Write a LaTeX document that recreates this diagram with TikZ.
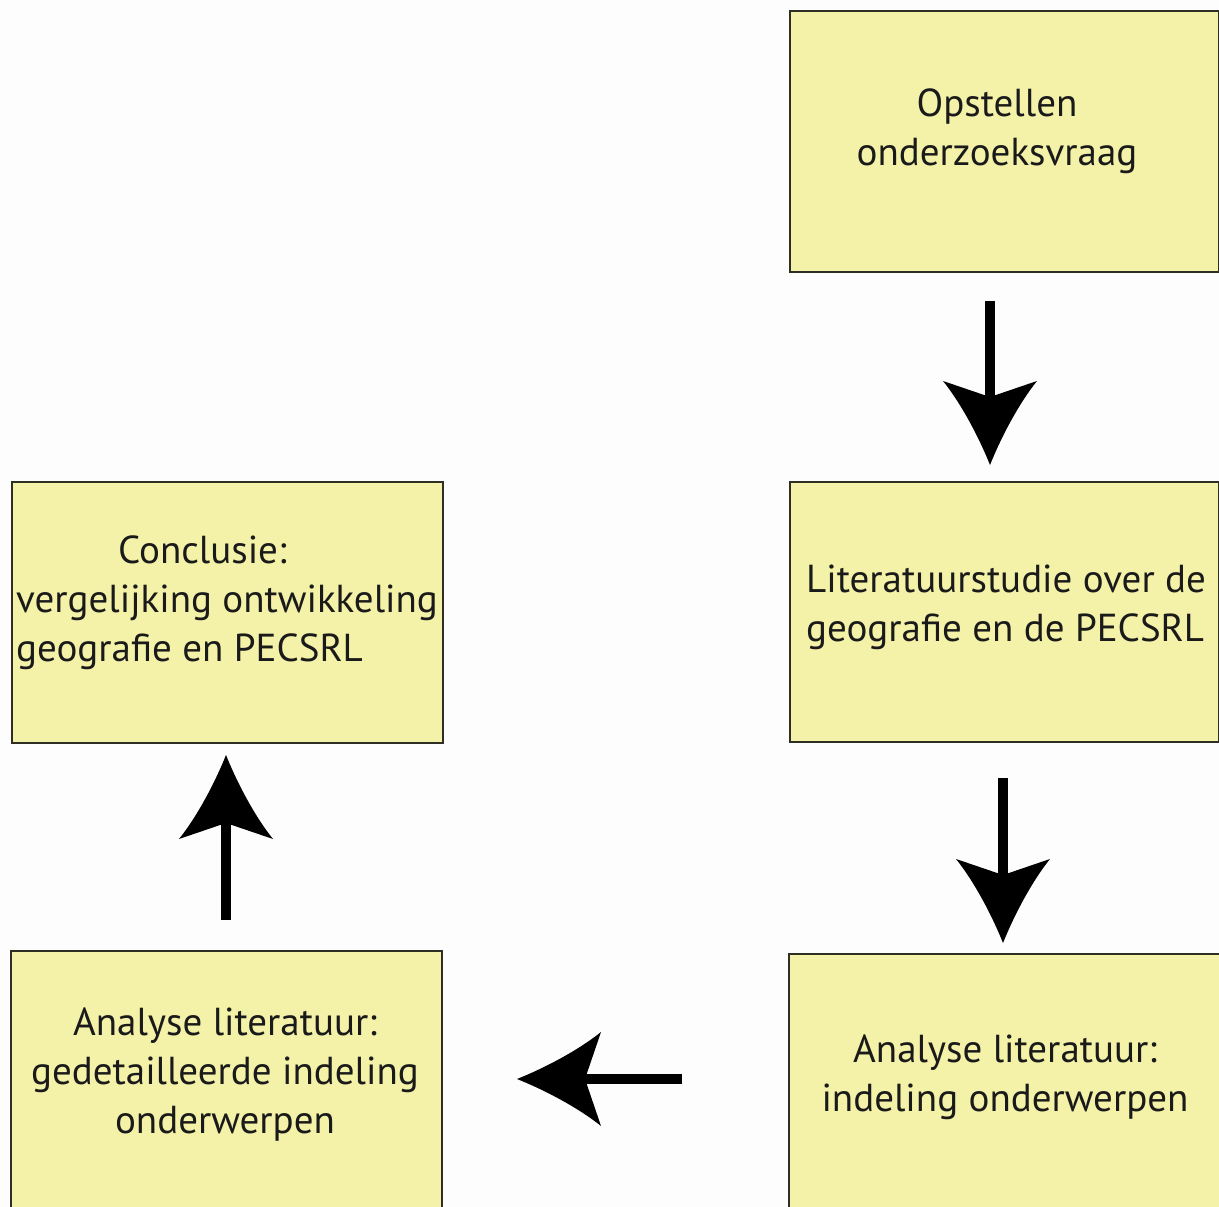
\documentclass[tikz,border=0pt]{standalone}
\usepackage{fontspec}
\setmainfont{PT Sans}
\definecolor{bgcol}{HTML}{FDFDFD}
\definecolor{boxfill}{HTML}{F4F2A8}
\definecolor{boxline}{HTML}{2E2E24}
\definecolor{txtcol}{HTML}{1A1A1A}
\begin{document}
\begin{tikzpicture}[x=1pt,y=-1pt,
  stepbox/.style={draw=boxline,fill=boxfill,line width=2pt,rectangle,inner sep=0pt,anchor=north west},
  steptext/.style={inner sep=0pt,text=txtcol,font=\fontsize{39}{49}\selectfont},
  shaft/.style={line width=10pt,line cap=butt,shorten >=40pt},
  headshape/.style={fill=black},
]
\useasboundingbox (0,0) rectangle (1219,1207);
\fill[bgcol] (0,0) rectangle (1219,1207);
\clip (0,0) rectangle (1219,1207);

% boxes
\node[stepbox,minimum width=429pt,minimum height=261pt] (b1) at (789,10) {};
\node[stepbox,minimum width=429pt,minimum height=260pt] (b2) at (789,481) {};
\node[stepbox,minimum width=431pt,minimum height=290pt] (b3) at (788,953) {};
\node[stepbox,minimum width=431pt,minimum height=290pt] (b4) at (10,950) {};
\node[stepbox,minimum width=431pt,minimum height=261pt] (b5) at (11,481) {};

% texts
\node[steptext,align=center] (t1) at (997,131.5) {Opstellen\\onderzoeksvraag};
\node[steptext,align=left,anchor=west] (t2) at (806,607) {Literatuurstudie over de\\geografie en de PECSRL};
\node[steptext,align=center] (t3) at (1005,1077) {Analyse literatuur:\\indeling onderwerpen};
\node[steptext,align=center] (t4) at (225,1074.5) {Analyse literatuur:\\gedetailleerde indeling\\onderwerpen};
\node[steptext,align=left,anchor=west] (t5) at (16,603) {\hspace*{102pt}Conclusie:\\vergelijking ontwikkeling\\geografie en PECSRL};

% arrow end points
\coordinate (a1s) at (990,301);  \coordinate (a1t) at (990,465);
\coordinate (a2s) at (1003,778); \coordinate (a2t) at (1003,943);
\coordinate (a3s) at (682,1079); \coordinate (a3t) at (517,1079);
\coordinate (a4s) at (226,920);  \coordinate (a4t) at (226,755);

% shafts
\draw[shaft] (a1s) -- (a1t);
\draw[shaft] (a2s) -- (a2t);
\draw[shaft] (a3s) -- (a3t);
\draw[shaft] (a4s) -- (a4t);

% heads
\begin{scope}[shift={(a1t)}]
  \fill[headshape] (0,0) .. controls (-12,-30) and (-30,-63) .. (-47,-84) -- (0,-68) -- (47,-84) .. controls (30,-63) and (12,-30) .. (0,0) -- cycle;
\end{scope}
\begin{scope}[shift={(a2t)}]
  \fill[headshape] (0,0) .. controls (-12,-30) and (-30,-63) .. (-47,-84) -- (0,-68) -- (47,-84) .. controls (30,-63) and (12,-30) .. (0,0) -- cycle;
\end{scope}
\begin{scope}[shift={(a3t)},rotate=-90]
  \fill[headshape] (0,0) .. controls (-12,-30) and (-30,-63) .. (-47,-84) -- (0,-68) -- (47,-84) .. controls (30,-63) and (12,-30) .. (0,0) -- cycle;
\end{scope}
\begin{scope}[shift={(a4t)},rotate=180]
  \fill[headshape] (0,0) .. controls (-12,-30) and (-30,-63) .. (-47,-84) -- (0,-68) -- (47,-84) .. controls (30,-63) and (12,-30) .. (0,0) -- cycle;
\end{scope}
\end{tikzpicture}
\end{document}
